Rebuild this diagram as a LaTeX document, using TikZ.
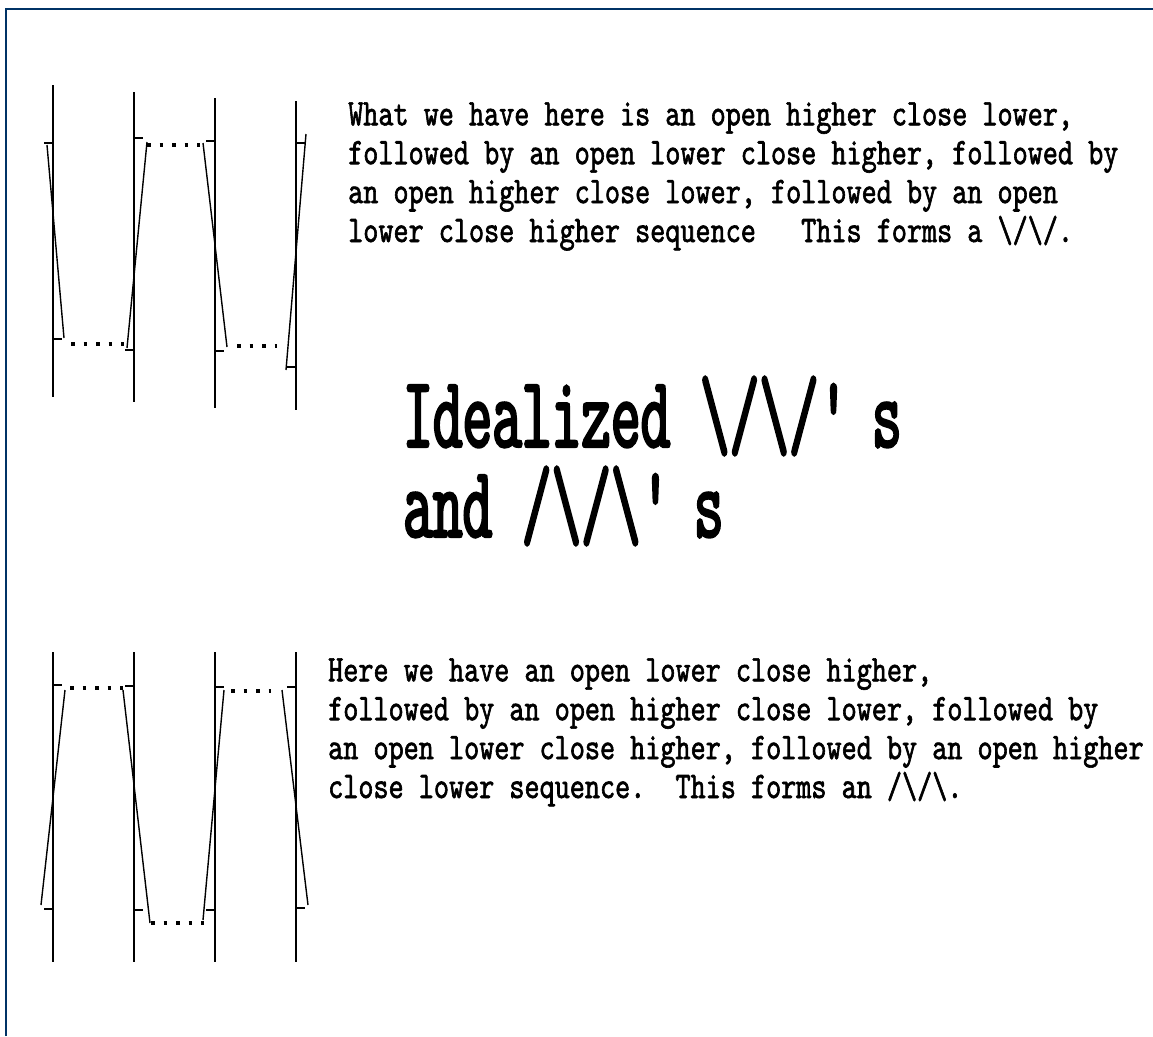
\documentclass[tikz,border=0pt]{standalone}
\usepackage{fontspec}
\usepackage{tikz}
\usetikzlibrary{positioning,calc}
\newfontfamily\pixfont{lmmono10-regular}[Extension=.otf,FakeStretch=0.765,FakeBold=1.6]
\newfontfamily\bigpixfont{lmmono10-regular}[Extension=.otf,FakeStretch=0.557,FakeBold=2.2]
\definecolor{framenavy}{HTML}{003366}

\begin{document}
\begin{tikzpicture}[
    x=1pt,y=-1pt,
    para/.style={anchor=base west,inner sep=0pt,align=left,
                 font=\pixfont\fontsize{37.6}{38.9}\selectfont},
    headline/.style={anchor=base west,inner sep=0pt,align=left,
                     font=\bigpixfont\fontsize{101.5}{90}\selectfont},
    bar/.style={line width=2pt},
    tick/.style={line width=2pt},
    swing/.style={line width=1.4pt},
    gap/.style={line width=3.5pt,dash pattern=on 3.5pt off 9pt}
  ]
    \useasboundingbox (0,0) rectangle (1153,1036);
    \draw[framenavy,line width=2pt] (6,1036) |- (1153,9);

    % upper chart: \/\/
    \foreach \x/\t/\b in {53/85/397,134/92/402,215/98/408,296/101/410}
      \draw[bar] (\x,\t) -- (\x,\b);
    \foreach \x/\o/\c in {53/143/339,134/350/138,215/141/351,296/367/143}
      \draw[tick] (\x-9,\o) -- (\x,\o) (\x,\c) -- (\x+9,\c);
    \draw[swing] (47,145) -- (64,338);
    \draw[swing] (127,348) -- (147,142);
    \draw[swing] (203,143) -- (227,347);
    \draw[swing] (286,370) -- (306,134);
    \draw[gap] (71,344) -- (124,344);
    \draw[gap] (147,145) -- (200,145);
    \draw[gap] (237,346) -- (277,346);

    % lower chart: /\/\
    \foreach \x in {53,134,215,296}
      \draw[bar] (\x,652) -- (\x,962);
    \foreach \x/\o/\c in {53/909/685,134/686/910,215/910/687,296/687/908}
      \draw[tick] (\x-9,\o) -- (\x,\o) (\x,\c) -- (\x+9,\c);
    \draw[swing] (41,905) -- (65,690);
    \draw[swing] (123,690) -- (150,923);
    \draw[swing] (203,920) -- (224,690);
    \draw[swing] (282,690) -- (308,905);
    \draw[gap] (70,688) -- (123,688);
    \draw[gap] (151,923) -- (204,923);
    \draw[gap] (231,691) -- (271,691);

    \node[para] (topnote) at (348,242)
      {What we have here is an open higher close lower,\\
       followed by an open lower close higher, followed by\\
       an open higher close lower, followed by an open\\
       lower close higher sequence~~~This forms a \textbackslash/\textbackslash/.};
    \node[headline] (title) at (403,447)
      {Idealized \textbackslash/\textbackslash/\textquotesingle s};
    \node[headline,anchor=base west] (title2) at (403,537)
      {and /\textbackslash/\textbackslash\textquotesingle s};
    \node[para] (bottomnote) at (328,798)
      {Here we have an open lower close higher,\\
       followed by an open higher close lower, followed by\\
       an open lower close higher, followed by an open higher\\
       close lower sequence.~~This forms an /\textbackslash/\textbackslash.};
\end{tikzpicture}
\end{document}
